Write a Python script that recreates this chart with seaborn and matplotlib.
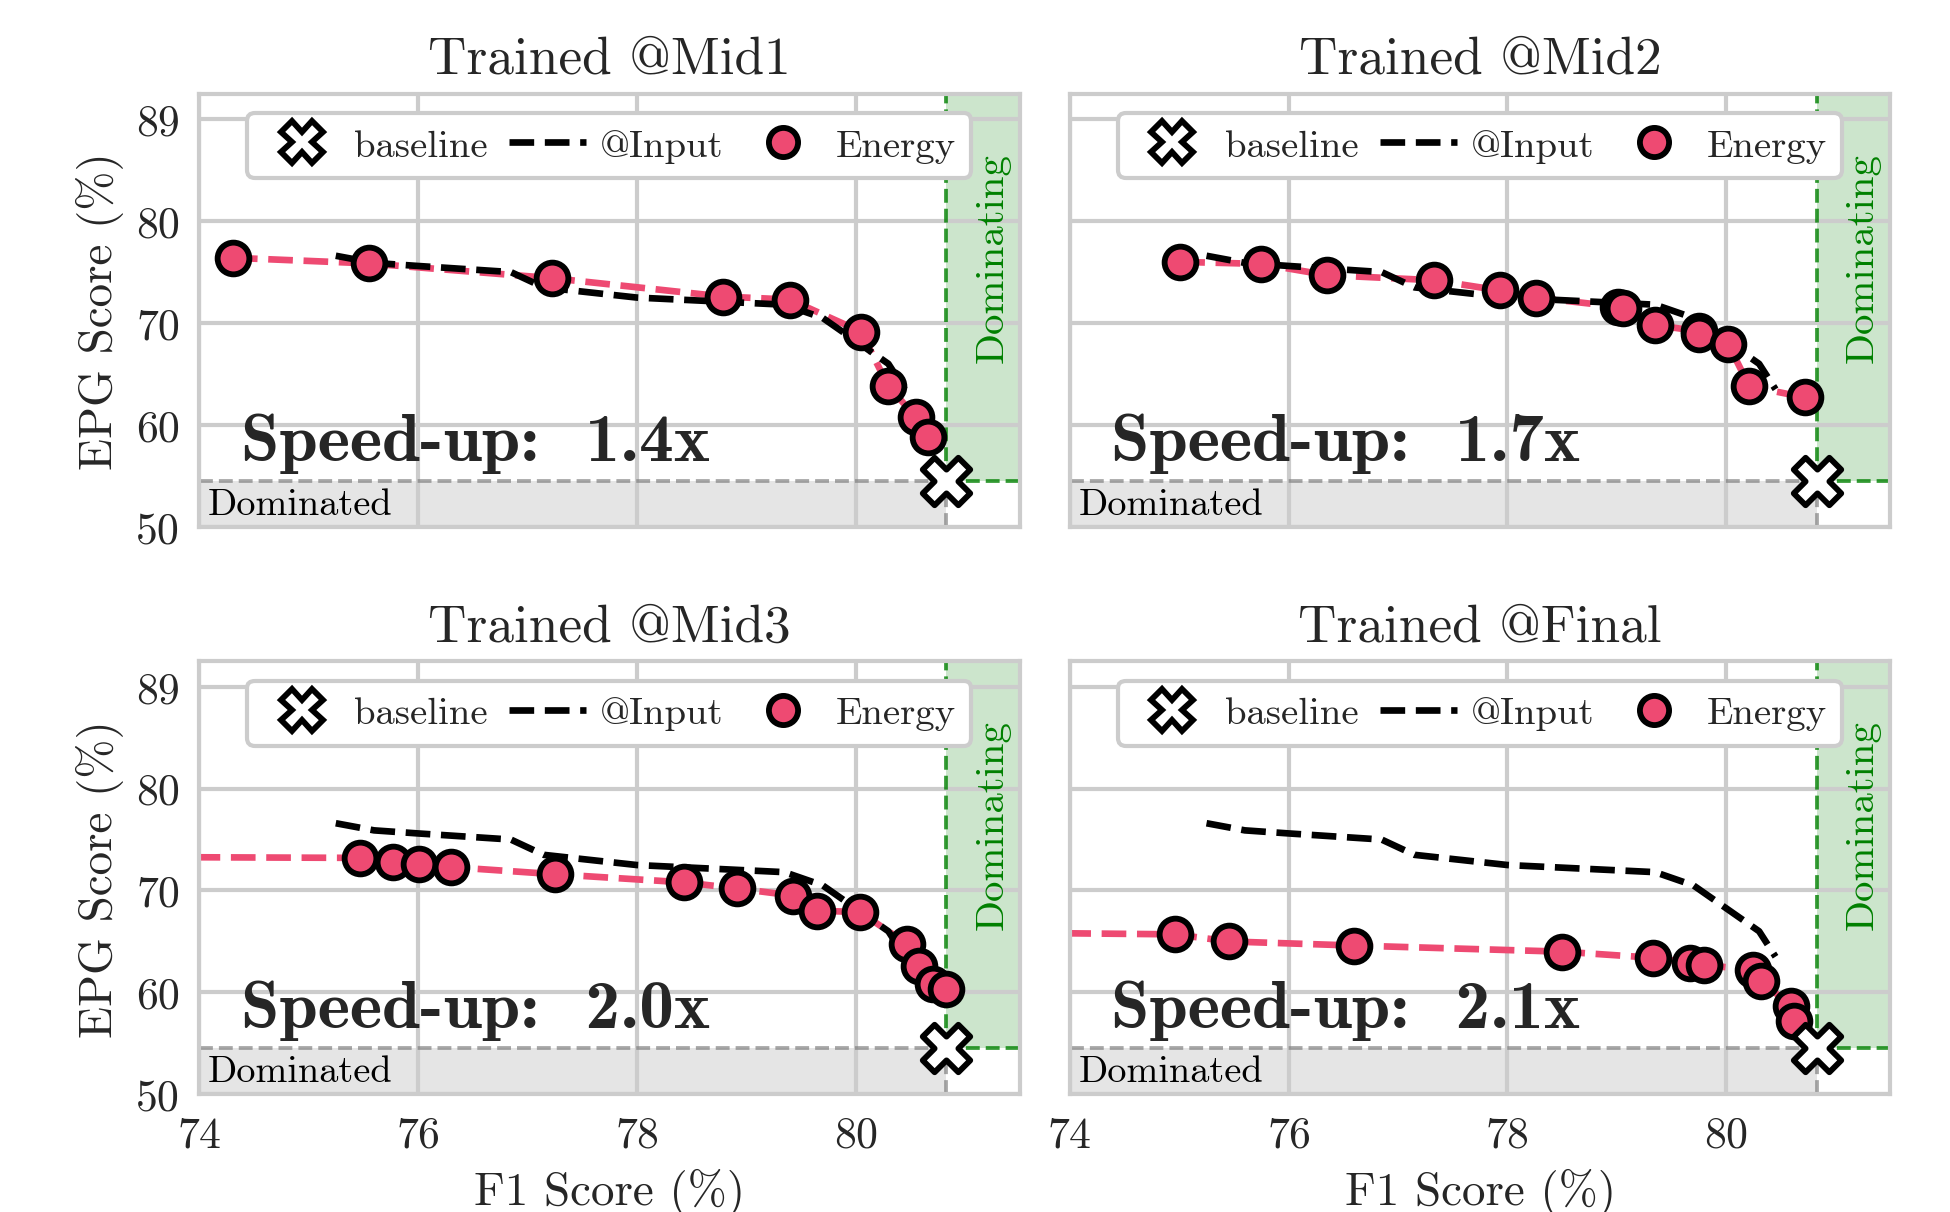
import numpy as np
import seaborn as sns
import matplotlib.pyplot as plt
from matplotlib.lines import Line2D

# Baseline operating point
base_f1 = 80.83
base_epg = 54.5

# @Input reference curve (same in every panel)
input_f1 = [75.25, 75.6, 76.0, 76.85, 77.15, 78.0, 79.35, 79.7, 80.3, 80.45]
input_epg = [76.6, 75.9, 75.6, 75.0, 73.5, 72.5, 71.8, 70.5, 66.0, 63.5]

# Energy points per training stage
mid1_f1 = [74.31, 75.55, 77.23, 78.79, 79.40, 80.05, 80.30, 80.55, 80.66]
mid1_epg = [76.4, 75.85, 74.4, 72.6, 72.3, 69.15, 63.8, 60.8, 58.8]

mid2_f1 = [75.01, 75.75, 76.35, 77.33, 77.93, 78.26, 79.01, 79.06, 79.35, 79.75, 79.75, 80.02, 80.21, 80.72]
mid2_epg = [76.0, 75.8, 74.7, 74.2, 73.2, 72.5, 71.6, 71.5, 69.8, 69.2, 68.9, 67.9, 63.8, 62.7]

mid3_f1 = [73.0, 75.47, 75.77, 76.01, 76.30, 77.25, 78.43, 78.92, 79.43, 79.65, 80.04, 80.47, 80.58, 80.71, 80.83]
mid3_epg = [73.3, 73.2, 72.8, 72.6, 72.3, 71.6, 70.8, 70.2, 69.5, 68.0, 67.9, 64.75, 62.6, 60.8, 60.3]

final_f1 = [73.0, 74.96, 75.46, 76.60, 78.50, 79.33, 79.67, 79.80, 80.24, 80.32, 80.59, 80.62]
final_epg = [65.9, 65.7, 65.0, 64.6, 64.0, 63.4, 62.9, 62.7, 62.2, 61.1, 58.7, 57.2]

titles = ['Trained @Mid1', 'Trained @Mid2', 'Trained @Mid3', 'Trained @Final']
speedups = ['1.4x', '1.7x', '2.0x', '2.1x']
energy_f1 = [mid1_f1, mid2_f1, mid3_f1, final_f1]
energy_epg = [mid1_epg, mid2_epg, mid3_epg, final_epg]

xticks = [74, 76, 78, 80]
yticks = [50, 60, 70, 80, 90]
ytick_labels = ['50', '60', '70', '80', '89']

pink = '#ee4a72'
ink = '#262626'

sns.set_theme(style='whitegrid')
plt.rcParams['font.family'] = ['cmr10', 'DejaVu Serif']
plt.rcParams['axes.formatter.use_mathtext'] = True
plt.rcParams['axes.unicode_minus'] = False

fig, axes = plt.subplots(2, 2, figsize=(6.503, 4.043), dpi=300, sharex=True, sharey=True)
fig.subplots_adjust(left=0.102, right=0.969, top=0.922, bottom=0.097, wspace=0.061, hspace=0.31)

xmin, xmax = 74, 81.5
ymin, ymax = 50, 92.5

for i, ax in enumerate(axes.flat):
    ax.set_xlim(xmin, xmax)
    ax.set_ylim(ymin, ymax)

    # regions
    ax.fill_between([base_f1, xmax], base_epg, ymax, color='green', alpha=0.2, lw=0, zorder=0)
    ax.fill_between([xmin, base_f1], ymin, base_epg, color='gray', alpha=0.2, lw=0, zorder=0)
    ax.plot([base_f1, base_f1], [base_epg, ymax], ls='--', color='green', alpha=0.8, lw=0.9, zorder=1)
    ax.plot([base_f1, xmax], [base_epg, base_epg], ls='--', color='green', alpha=0.8, lw=0.9, zorder=1)
    ax.plot([xmin, base_f1], [base_epg, base_epg], ls='--', color='gray', alpha=0.7, lw=0.9, zorder=1)
    ax.plot([base_f1, base_f1], [ymin, base_epg], ls='--', color='gray', alpha=0.7, lw=0.9, zorder=1)
    ax.text(81.25, 76.5, 'Dominating', rotation=90, color='green', fontsize=9.8,
            ha='center', va='center')
    ax.text(74.08, 52.2, 'Dominated', color='black', fontsize=9.2, ha='left', va='center')

    # curves
    ax.plot(input_f1, input_epg, ls='--', color='black', lw=1.6, zorder=3)
    ax.plot(energy_f1[i], energy_epg[i], ls='--', color=pink, lw=1.6, zorder=2)
    sns.scatterplot(x=energy_f1[i], y=energy_epg[i], ax=ax, color=pink, edgecolor='black',
                    linewidth=1.4, s=58, zorder=4, legend=False)
    ax.scatter([base_f1], [base_epg], marker='X', s=130, color='white', edgecolor='black',
               linewidth=1.4, zorder=5, clip_on=False)

    ax.text(74.38, 56.6, 'Speed-up:  ' + speedups[i], fontsize=16.6, fontweight='bold',
            family=['cmb10', 'DejaVu Serif'], ha='left', va='baseline', color=ink)

    ax.set_title(titles[i], fontsize=12.8, color=ink, pad=5)
    ax.set_xticks(xticks)
    ax.set_yticks(yticks)
    ax.set_yticklabels(ytick_labels)
    ax.tick_params(labelsize=10.5, length=0, colors=ink)
    ax.tick_params(axis='x', pad=5)
    ax.tick_params(axis='y', pad=4.5)
    for s in ax.spines.values():
        s.set_color('#cccccc')
        s.set_linewidth(1.0)

    handles = [
        Line2D([], [], marker='X', ls='none', markersize=10, markerfacecolor='white',
               markeredgecolor='black', markeredgewidth=1.4, label='baseline'),
        Line2D([], [], ls='--', color='black', lw=1.6, label='@Input'),
        Line2D([], [], marker='o', ls='none', markersize=7, markerfacecolor=pink,
               markeredgecolor='black', markeredgewidth=1.4, label='Energy'),
    ]
    ax.legend(handles=handles, loc='upper center', ncol=3, fontsize=9.3, framealpha=1,
              columnspacing=0.55, handletextpad=0.35, handlelength=2.0)

for ax in axes[1, :]:
    ax.set_xlabel('F1 Score (%)', fontsize=11.3, color=ink, labelpad=3)
for ax in axes[:, 0]:
    ax.set_ylabel('EPG Score (%)', fontsize=11.3, color=ink, labelpad=3)

fig.savefig('out.png', dpi=300)
